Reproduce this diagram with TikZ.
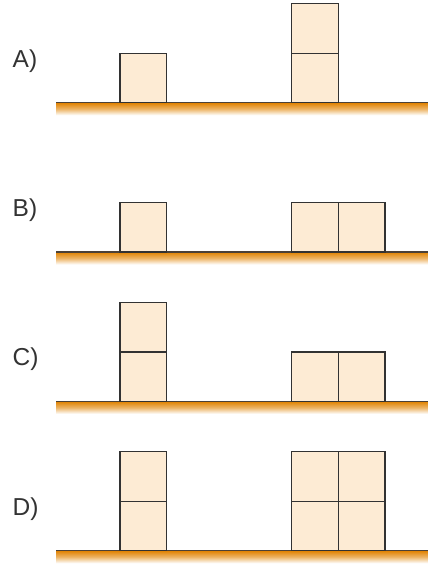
\documentclass[tikz,border=0pt]{standalone}
\usepackage{fontspec}
\setmainfont{Liberation Sans}
\definecolor{blockfill}{RGB}{253,235,212}
\definecolor{blockedge}{RGB}{50,50,50}
\definecolor{groundorange}{RGB}{224,130,0}
\definecolor{groundline}{RGB}{75,65,55}
\begin{document}
\begin{tikzpicture}[x=1pt,y=-1pt,
  blockbox/.style={draw=blockedge,fill=blockfill,line width=1.3pt},
  lbl/.style={anchor=base west,inner sep=0pt,font=\fontsize{24.5}{28}\selectfont,text=black!80}]
\useasboundingbox (0,0) rectangle (428,566);
\def\bw{46.8}
\def\bh{49.5}
\foreach \g/\name/\L in {102.7/A/A), 252/B/B), 401.4/C/C), 550.7/D/D)}{
  \shade[top color=groundorange,bottom color=white,middle color=groundorange!60] (56,\g) rectangle (428,\g+12.5);
  \draw[groundline,line width=1.4pt] (56,\g) -- (428,\g);
  \node[lbl] (lab\name) at (12.5,\g-35.5) {\L};
}
% A
\draw[blockbox] (120,102.7) rectangle ++(\bw,-\bh);
\draw[blockbox] (291.5,102.7) rectangle ++(\bw,-\bh);
\draw[blockbox] (291.5,102.7-\bh) rectangle ++(\bw,-\bh);
% B
\draw[blockbox] (120,252) rectangle ++(\bw,-\bh);
\draw[blockbox] (291.5,252) rectangle ++(\bw,-\bh);
\draw[blockbox] (291.5+\bw,252) rectangle ++(\bw,-\bh);
% C
\draw[blockbox] (120,401.4) rectangle ++(\bw,-\bh);
\draw[blockbox] (120,401.4-\bh) rectangle ++(\bw,-\bh);
\draw[blockbox] (291.5,401.4) rectangle ++(\bw,-\bh);
\draw[blockbox] (291.5+\bw,401.4) rectangle ++(\bw,-\bh);
% D
\draw[blockbox] (120,550.7) rectangle ++(\bw,-\bh);
\draw[blockbox] (120,550.7-\bh) rectangle ++(\bw,-\bh);
\draw[blockbox] (291.5,550.7) rectangle ++(\bw,-\bh);
\draw[blockbox] (291.5+\bw,550.7) rectangle ++(\bw,-\bh);
\draw[blockbox] (291.5,550.7-\bh) rectangle ++(\bw,-\bh);
\draw[blockbox] (291.5+\bw,550.7-\bh) rectangle ++(\bw,-\bh);
\end{tikzpicture}
\end{document}
